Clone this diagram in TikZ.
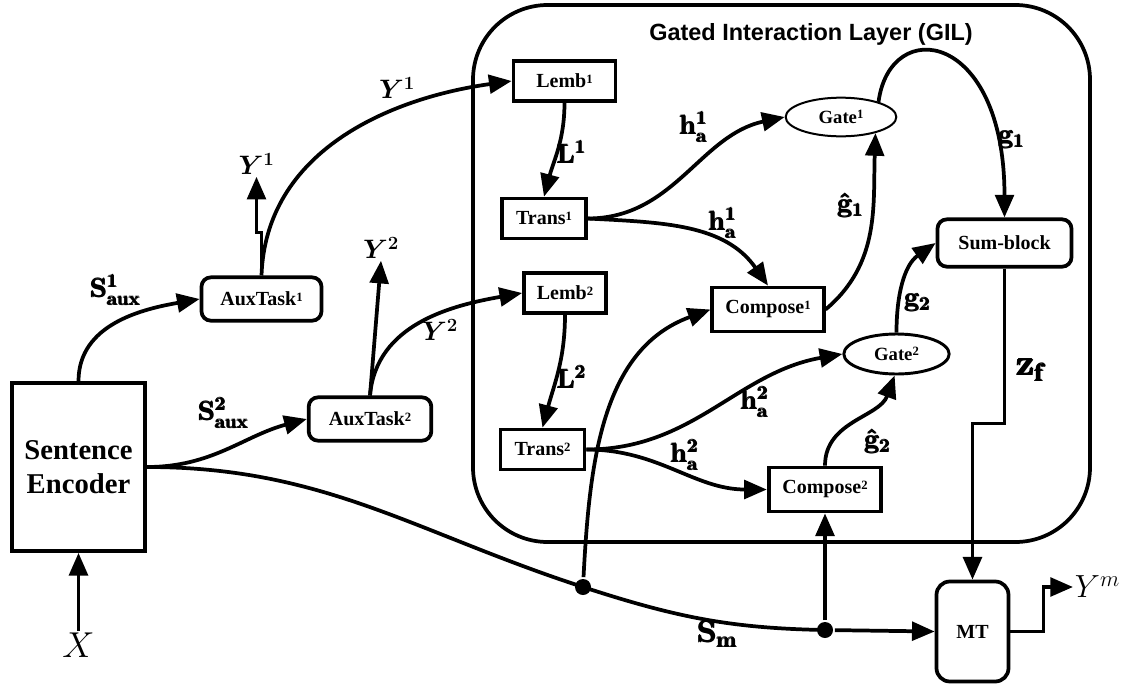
\RequirePackage{fix-cm}
\documentclass[tikz,border=0pt]{standalone}
\usepackage{amsmath}
\usepackage[no-math]{fontspec}
\usetikzlibrary{arrows.meta,shapes.geometric}
\newfontfamily\tnr{Liberation Serif}
\newfontfamily\helv{Liberation Sans}
\newcommand{\supidx}[1]{\raisebox{3.4pt}{\fontsize{9.5}{9.5}\selectfont #1}}
\newcommand{\heavy}[1]{$\pmb{#1}$}
\begin{document}
\begin{tikzpicture}[x=0.75pt,y=0.75pt,line width=2.8pt,>={Triangle[length=17pt,width=14pt]}]
  \tikzset{
    blk/.style={draw,rectangle,inner sep=0pt,font=\tnr\bfseries\fontsize{15}{18}\selectfont},
    rblk/.style={blk,rounded corners=7pt},
    gate/.style={draw,ellipse,inner sep=0pt,font=\tnr\bfseries\fontsize{14}{16}\selectfont},
    lbl/.style={inner sep=0pt,font=\fontsize{20}{24}\selectfont\boldmath},
    jn/.style={circle,fill,inner sep=0pt,minimum size=12pt}}
  \useasboundingbox (0,0) rectangle (1129,-686);
  % gated interaction layer
  \draw[rounded corners=56pt] (473,-5) rectangle (1090,-542);
  \node[font=\helv\bfseries\fontsize{17.6}{20}\selectfont] (title) at (811,-34) {Gated Interaction Layer (GIL)};
  % blocks
  \node[blk,align=center,minimum width=100pt,minimum height=126pt,font=\tnr\bfseries\fontsize{21.5}{25}\selectfont] (enc) at (78.5,-467) {Sentence\\Encoder};
  \node[rblk,minimum width=90pt,minimum height=32.5pt] (aux1) at (261.5,-299) {AuxTask\supidx{1}};
  \node[rblk,minimum width=92pt,minimum height=32.5pt] (aux2) at (370,-419) {AuxTask\supidx{2}};
  \node[blk,minimum width=76.5pt,minimum height=29.5pt] (lemb1) at (564.5,-81) {Lemb\supidx{1}};
  \node[blk,minimum width=62.5pt,minimum height=30pt] (trans1) at (544,-218.5) {Trans\supidx{1}};
  \node[blk,minimum width=61.5pt,minimum height=29.5pt] (lemb2) at (565,-293) {Lemb\supidx{2}};
  \node[blk,minimum width=63pt,minimum height=30pt] (trans2) at (542.5,-449.5) {Trans\supidx{2}};
  \node[blk,minimum width=83.5pt,minimum height=33pt] (comp1) at (768,-309.5) {Compose\supidx{1}};
  \node[blk,minimum width=84.5pt,minimum height=33pt] (comp2) at (825,-489.5) {Compose\supidx{2}};
  \node[gate,line width=1.5pt,minimum width=83pt,minimum height=29pt] (gate1) at (841,-117) {Gate\supidx{1}};
  \node[gate,line width=2.2pt,minimum width=79pt,minimum height=30pt] (gate2) at (896.5,-354) {Gate\supidx{2}};
  \node[rblk,minimum width=100.5pt,minimum height=35.5pt] (sum) at (1004.5,-243) {Sum-block};
  \node[rblk,rounded corners=10pt,minimum width=54pt,minimum height=75pt] (mt) at (972.5,-631.5) {MT};
  \node[jn] (d1) at (583,-587) {};
  \node[jn] (d2) at (825,-630) {};
  % free ends
  \node[lbl,font=\fontsize{27}{30}\selectfont] (xin) at (78.5,-645) {$X$};
  \node[lbl] (y1out) at (256.5,-164) {$Y^{1}$};
  \node[lbl] (y2out) at (381,-248) {$Y^{2}$};
  \node[lbl,anchor=west,font=\fontsize{24}{28}\selectfont] (ym) at (1073,-587) {$Y^{m}$};
  % edge labels
  \node[lbl] (lsa1) at (116,-290) {\heavy{\mathbf{S}^{1}_{\mathbf{aux}}}};
  \node[lbl] (lsa2) at (224,-413) {\heavy{\mathbf{S}^{2}_{\mathbf{aux}}}};
  \node[lbl] (ly1) at (397,-88) {$Y^{1}$};
  \node[lbl] (ly2) at (440,-330) {$Y^{2}$};
  \node[lbl] (ll1) at (572,-152) {\heavy{\mathbf{L}^{1}}};
  \node[lbl] (ll2) at (572,-377) {\heavy{\mathbf{L}^{2}}};
  \node[lbl] (lh1a) at (694,-127) {\heavy{\mathbf{h}^{1}_{\mathbf{a}}}};
  \node[lbl] (lh1b) at (723,-223) {\heavy{\mathbf{h}^{1}_{\mathbf{a}}}};
  \node[lbl] (lh2a) at (755,-402) {\heavy{\mathbf{h}^{2}_{\mathbf{a}}}};
  \node[lbl] (lh2b) at (685,-455) {\heavy{\mathbf{h}^{2}_{\mathbf{a}}}};
  \node[lbl] (lgh1) at (851,-205) {\heavy{\hat{\mathbf{g}}_{1}}};
  \node[lbl] (lgh2) at (878,-441) {\heavy{\hat{\mathbf{g}}_{2}}};
  \node[lbl] (lg1) at (1012,-140) {\heavy{\mathbf{g}_{1}}};
  \node[lbl] (lg2) at (918,-303) {\heavy{\mathbf{g}_{2}}};
  \node[lbl,font=\fontsize{27}{30}\selectfont\boldmath] (lzf) at (1032,-370) {\heavy{\mathbf{z}_{\mathbf{f}}}};
  \node[lbl,font=\fontsize{23}{26}\selectfont\boldmath] (lsm) at (718,-634) {\heavy{\mathbf{S}_{\mathbf{m}}}};
  % connectors
  \draw[->] (xin.north) -- (enc.south);
  \draw[->] (enc.north) to[out=90,in=190] (aux1.west);
  \draw[->] (enc.east) to[out=0,in=195] (aux2.west);
  \draw (enc.east) to[out=0,in=162] (d1.center) to[out=-18,in=179] (d2.center);
  \draw[->] (d2) -- (mt.west);
  \draw[->] (d1) to[out=87,in=200] (comp1.west);
  \draw[->] (d2) -- (comp2.south);
  \draw[->] (aux1.north) -- ++(0,43) -- ++(-5,0) -- (y1out.south);
  \draw[->] (aux1.north) to[out=88,in=188] (lemb1.west);
  \draw[->] (aux2.north) -- (y2out.south);
  \draw[->] (aux2.north) to[out=85,in=190] (lemb2.west);
  \draw[->] (lemb1.south) to[out=-90,in=75] (trans1.north);
  \draw[->] (lemb2.south) to[out=-90,in=75] (trans2.north);
  \draw[->] (trans1.east) to[out=0,in=192] (gate1.west);
  \draw[->] (trans1.east) to[out=-3,in=125] (comp1.north);
  \draw[->] (trans2.east) to[out=0,in=190] (gate2.west);
  \draw[->] (trans2.east) to[out=0,in=180] (comp2.west);
  \draw[->] (comp1.east) to[out=40,in=-92] (gate1.-25);
  \draw[->] (comp2.north) to[out=90,in=-110] (gate2.-95);
  \draw[->] (gate1.22) .. controls (890,-15) and (1004.5,-30) .. (sum.north);
  \draw[->] (gate2.north) to[out=90,in=215] (sum.west);
  \draw[->] (sum.south) -- ++(0,-155) -| (mt.north);
  \draw[->] (mt.east) -- ++(33,0) |- (ym.west);
\end{tikzpicture}
\end{document}
